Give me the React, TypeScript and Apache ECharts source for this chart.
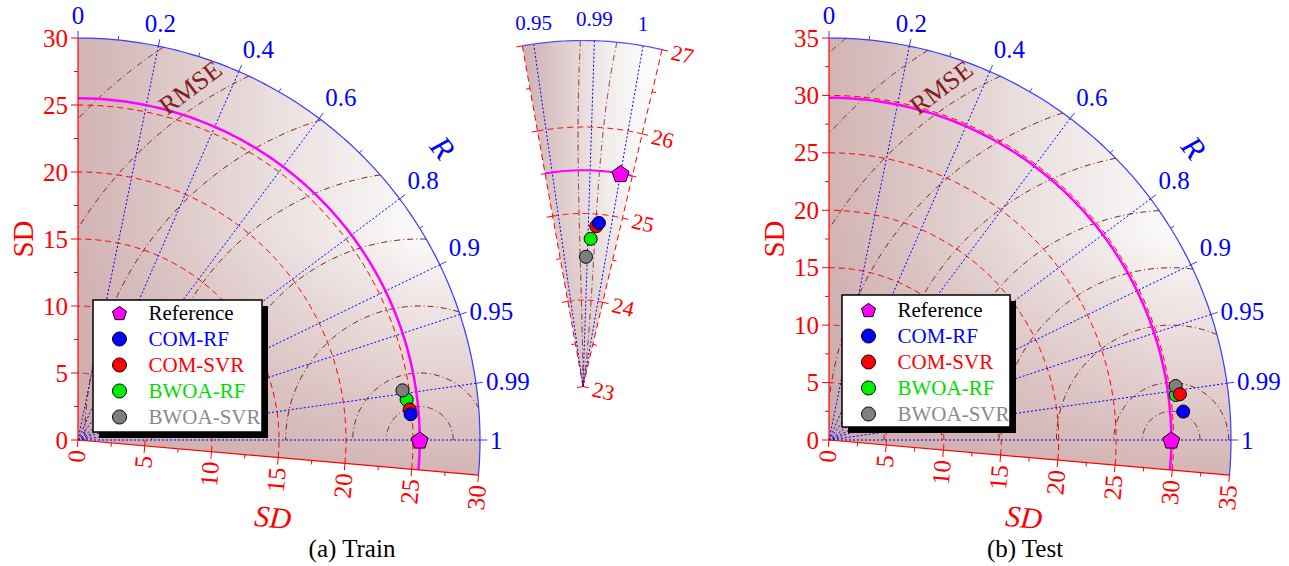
import { useEffect, useRef } from 'react';
import * as echarts from 'echarts';

// ---------------- data ----------------
const models = ['Reference', 'COM-RF', 'COM-SVR', 'BWOA-RF', 'BWOA-SVR'];
const markerColors = ['#ff00ff', '#0000ff', '#ff0000', '#00ee00', '#7f7f7f'];
const legendTextColors = ['#000000', '#0000ff', '#ff0000', '#00dd00', '#8a8a8a'];
const drawOrder = [10, 9, 8, 6, 7];

const trainSD = [25.5, 24.9, 24.86, 24.71, 24.5];
const trainR = [1, 0.997, 0.9958, 0.9925, 0.9885];
const testSD = [29.8, 30.94, 30.81, 30.45, 30.54];
const testR = [1, 0.9968, 0.9916, 0.9917, 0.9881];

const rTicks = [0, 0.2, 0.4, 0.6, 0.8, 0.9, 0.95, 0.99, 1];
const rTickLabels = ['0', '0.2', '0.4', '0.6', '0.8', '0.9', '0.95', '0.99', '1'];
const rMinorTicks = [0.1, 0.3, 0.5, 0.7, 0.85];
const trainSdTicks = [0, 5, 10, 15, 20, 25, 30];
const testSdTicks = [0, 5, 10, 15, 20, 25, 30, 35];
const rmseLevels = [2.5, 5, 10, 15, 20, 25, 30, 35, 40, 45];
const zoomSdTicks = [23, 24, 25, 26, 27];
const zoomRTicks = [0.95, 0.99, 1];
const zoomRTickLabels = ['0.95', '0.99', '1'];

// ---------------- style / geometry ----------------
const FONT = 'Liberation Serif';
const RED = '#ff0000';
const BLUE = '#0000ff';
const BROWN = '#7f1d1d';
const MAGENTA = '#ff00ff';
const LOWER = -5; // lower angular bound of the Taylor sectors (deg)
const WR = 10; // zoom wedge rotation (deg)
const W0 = 23;
const W1 = 27;
const THMIN = -3.2;
const THMAX = 20.1;
const PENTA = 'path://M0,-10L9.511,-3.09L5.878,8.09L-5.878,8.09L-9.511,-3.09Z';
const D = Math.PI / 180;

type Pt = number[];
type Coord = (p: Pt) => Pt;

const toXY = (sd: number, th: number): Pt => [sd * Math.cos(th * D), sd * Math.sin(th * D)];
const thetaOf = (r: number) => Math.acos(Math.max(-1, Math.min(1, r))) / D;
const wedgeXY = (sd: number, th: number): Pt => {
  const a = (WR - th) * D;
  const rw = sd - W0;
  return [rw * Math.sin(a), rw * Math.cos(a)];
};

const arc = (c: Coord, r: number, a0: number, a1: number, n = 120) => {
  const pts: Pt[] = [];
  for (let i = 0; i <= n; i++) pts.push(c(toXY(r, a0 + ((a1 - a0) * i) / n)));
  return pts;
};
const warc = (c: Coord, sd: number, a0: number, a1: number, n = 60) => {
  const pts: Pt[] = [];
  for (let i = 0; i <= n; i++) pts.push(c(wedgeXY(sd, a0 + ((a1 - a0) * i) / n)));
  return pts;
};
const poly = (points: Pt[], style: any) => ({ type: 'polyline', shape: { points }, style: { fill: 'none', ...style } });
const seg = (a: Pt, b: Pt, style: any) => ({
  type: 'line',
  shape: { x1: a[0], y1: a[1], x2: b[0], y2: b[1] },
  style: { fill: 'none', ...style },
});
const textStyle = (text: string, o: any = {}) => ({
  text,
  fill: o.fill || '#000',
  fontFamily: FONT,
  fontSize: o.size || 24,
  fontStyle: o.italic ? 'italic' : 'normal',
  align: o.align || 'center',
  verticalAlign: o.va || 'middle',
  textAlign: o.align || 'center',
  textVerticalAlign: o.va || 'middle',
});
const txt = (x: number, y: number, text: string, o: any = {}) => ({
  type: 'text',
  x,
  y,
  rotation: (o.rot || 0) * D,
  style: textStyle(text, o),
});

const layer = (gi: number, z: number, build: (c: Coord) => any[]) => ({
  type: 'custom',
  xAxisIndex: gi,
  yAxisIndex: gi,
  coordinateSystem: 'cartesian2d',
  data: [[0, 0]],
  clip: false,
  silent: true,
  z,
  renderItem: (_p: any, api: any) => ({ type: 'group', children: build((p: Pt) => api.coord(p)) }),
});

const hGrad = () =>
  new echarts.graphic.LinearGradient(0, 0, 1, 0, [
    { offset: 0, color: '#d2b3b3' },
    { offset: 0.5, color: '#ebe0e0' },
    { offset: 0.85, color: '#fbfafa' },
    { offset: 1, color: '#fbfafa' },
  ]);
const vGrad = (a: number) =>
  new echarts.graphic.LinearGradient(0, 0, 0, 1, [
    { offset: 0, color: 'rgba(205,168,168,0)' },
    { offset: 0.45, color: 'rgba(205,168,168,0)' },
    { offset: 1, color: `rgba(205,168,168,${a})` },
  ]);

function taylorLayers(gi: number, max: number, ref: number, sdTicks: number[]) {
  const bg = layer(gi, 1, (c) => {
    const pts = [c([0, 0]), ...arc(c, max, LOWER, 90)];
    return [
      { type: 'polygon', shape: { points: pts }, style: { fill: hGrad() } },
      { type: 'polygon', shape: { points: pts }, style: { fill: vGrad(0.85) } },
    ];
  });
  const lines = layer(gi, 2, (c) => {
    const els: any[] = [];
    const o = c([0, 0]);
    sdTicks
      .filter((t) => t > 0 && t < max)
      .forEach((t) => els.push(poly(arc(c, t, LOWER, 90), { stroke: RED, lineWidth: 1, lineDash: [6, 4] })));
    rTicks
      .filter((r) => r > 0)
      .forEach((r) => els.push(seg(o, c(toXY(max, thetaOf(r))), { stroke: BLUE, lineWidth: 1, lineDash: [2, 2] })));
    rmseLevels.forEach((L) => {
      const q = (max * max - ref * ref - L * L) / (2 * ref * L);
      if (q < -1) return;
      const t0 = q >= 1 ? 0 : Math.acos(q);
      const t1 = L > ref ? Math.acos(-ref / L) : Math.PI;
      if (t1 <= t0) return;
      const pts: Pt[] = [];
      for (let i = 0; i <= 120; i++) {
        const t = t0 + ((t1 - t0) * i) / 120;
        pts.push(c([ref + L * Math.cos(t), L * Math.sin(t)]));
      }
      els.push(poly(pts, { stroke: BROWN, lineWidth: 1, lineDash: [6, 3, 1, 3] }));
    });
    els.push(poly(arc(c, ref, LOWER, 90), { stroke: MAGENTA, lineWidth: 2.5 }));
    els.push(poly(arc(c, max, LOWER, 90), { stroke: '#3a3aff', lineWidth: 1.2 }));
    // left SD axis
    els.push(seg(o, c([0, max]), { stroke: RED, lineWidth: 1.2 }));
    sdTicks.forEach((v, i) => {
      const p = c([0, v]);
      els.push(seg(p, [p[0] - 7, p[1]], { stroke: RED, lineWidth: 1 }));
      els.push(txt(p[0] - 10, p[1], String(v), { fill: RED, size: 25, align: 'right' }));
      if (i < sdTicks.length - 1) {
        const m = c([0, (v + sdTicks[i + 1]) / 2]);
        els.push(seg(m, [m[0] - 4, m[1]], { stroke: RED, lineWidth: 1 }));
      }
    });
    // tilted bottom SD axis
    els.push(seg(o, c(toXY(max, LOWER)), { stroke: RED, lineWidth: 1.2 }));
    const out = [-Math.sin(-LOWER * D), Math.cos(-LOWER * D)];
    sdTicks.forEach((v, i) => {
      const p = c(toXY(v, LOWER));
      els.push(seg(p, [p[0] + out[0] * 7, p[1] + out[1] * 7], { stroke: RED, lineWidth: 1 }));
      els.push(
        txt(p[0] + out[0] * 10, p[1] + out[1] * 10, String(v), { fill: RED, size: 25, align: 'right', rot: 90 + LOWER })
      );
      if (i < sdTicks.length - 1) {
        const m = c(toXY((v + sdTicks[i + 1]) / 2, LOWER));
        els.push(seg(m, [m[0] + out[0] * 4, m[1] + out[1] * 4], { stroke: RED, lineWidth: 1 }));
      }
    });
    // R axis ticks & labels
    rTicks.forEach((r, i) => {
      const th = thetaOf(r);
      const p = c(toXY(max, th));
      const dir = [Math.cos(th * D), -Math.sin(th * D)];
      els.push(seg(p, [p[0] + dir[0] * 7, p[1] + dir[1] * 7], { stroke: '#3a3aff', lineWidth: 1 }));
      const ax = p[0] + dir[0] * 10;
      const ay = p[1] + dir[1] * 10;
      const align = th < 70 ? 'left' : 'center';
      const va = th < 20 ? 'middle' : 'bottom';
      els.push(txt(ax, ay, rTickLabels[i], { fill: BLUE, size: 25, align, va }));
    });
    rMinorTicks.forEach((r) => {
      const th = thetaOf(r);
      const p = c(toXY(max, th));
      const dir = [Math.cos(th * D), -Math.sin(th * D)];
      els.push(seg(p, [p[0] + dir[0] * 4, p[1] + dir[1] * 4], { stroke: '#3a3aff', lineWidth: 1 }));
    });
    // titles
    const rp = c(toXY(max * 1.162, 38.7));
    els.push(txt(rp[0], rp[1], 'R', { fill: BLUE, size: 31, italic: true, rot: 38.7 - 90 }));
    const mp = c(toXY(max * 0.92, 72.3));
    els.push(txt(mp[0], mp[1], 'RMSE', { fill: BROWN, size: 26, rot: 37 }));
    const lp = c([0, max / 2]);
    els.push(txt(lp[0] - 55, lp[1], 'SD', { fill: RED, size: 29, rot: 90 }));
    els.push(txt(o[0] + 195, o[1] + 77, 'SD', { fill: RED, size: 30, italic: true, rot: LOWER }));
    return els;
  });
  return [bg, lines];
}

function wedgeLayers(gi: number, ref: number) {
  const bg = layer(gi, 1, (c) => {
    const pts = [c([0, 0]), ...warc(c, W1, THMAX, THMIN)];
    return [
      {
        type: 'polygon',
        shape: { points: pts },
        style: {
          fill: new echarts.graphic.LinearGradient(0, 0, 1, 0, [
            { offset: 0, color: '#cfb0b0' },
            { offset: 0.6, color: '#f2ecec' },
            { offset: 1, color: '#ffffff' },
          ]),
        },
      },
      { type: 'polygon', shape: { points: pts }, style: { fill: vGrad(0.5) } },
    ];
  });
  const lines = layer(gi, 2, (c) => {
    const els: any[] = [];
    const o = c([0, 0]);
    zoomSdTicks
      .filter((t) => t > W0 && t < W1)
      .forEach((t) => els.push(poly(warc(c, t, THMAX, THMIN), { stroke: RED, lineWidth: 1, lineDash: [6, 4] })));
    els.push(seg(o, c(wedgeXY(W1, THMAX)), { stroke: RED, lineWidth: 1, lineDash: [6, 4] }));
    els.push(seg(o, c(wedgeXY(W1, THMIN)), { stroke: RED, lineWidth: 1, lineDash: [6, 4] }));
    zoomRTicks.forEach((r) =>
      els.push(seg(o, c(wedgeXY(W1, thetaOf(r))), { stroke: BLUE, lineWidth: 1, lineDash: [2, 2] }))
    );
    rmseLevels.forEach((L) => {
      let cur: Pt[] = [];
      const n = 2000;
      for (let i = 0; i <= n; i++) {
        const t = (Math.PI * i) / n;
        const x = ref + L * Math.cos(t);
        const y = L * Math.sin(t);
        const sd = Math.hypot(x, y);
        const th = Math.atan2(y, x) / D;
        const inside = sd >= W0 && sd <= W1 && th >= THMIN && th <= THMAX;
        if (inside) cur.push(c(wedgeXY(sd, th)));
        else if (cur.length) {
          if (cur.length > 1) els.push(poly(cur, { stroke: BROWN, lineWidth: 1, lineDash: [6, 3, 1, 3] }));
          cur = [];
        }
      }
      if (cur.length > 1) els.push(poly(cur, { stroke: BROWN, lineWidth: 1, lineDash: [6, 3, 1, 3] }));
    });
    els.push(poly(warc(c, ref, THMAX, THMIN), { stroke: MAGENTA, lineWidth: 2 }));
    els.push(poly(warc(c, W1, THMAX, THMIN), { stroke: '#5050ff', lineWidth: 1.2 }));
    const aR = (WR - THMIN) * D;
    const aL = (WR - THMAX) * D;
    const outR = [Math.cos(aR), Math.sin(aR)];
    const outL = [-Math.cos(aL), -Math.sin(aL)];
    zoomSdTicks.forEach((v, i) => {
      const pr = c(wedgeXY(v, THMIN));
      const pl = c(wedgeXY(v, THMAX));
      els.push(seg(pr, [pr[0] + outR[0] * 6, pr[1] + outR[1] * 6], { stroke: RED, lineWidth: 1 }));
      els.push(seg(pl, [pl[0] + outL[0] * 6, pl[1] + outL[1] * 6], { stroke: RED, lineWidth: 1 }));
      els.push(
        txt(pr[0] + outR[0] * 10, pr[1] + outR[1] * 10, String(v), {
          fill: RED,
          size: 22,
          align: 'left',
          rot: -(WR - THMIN),
        })
      );
      if (i < zoomSdTicks.length - 1) {
        const mid = (v + zoomSdTicks[i + 1]) / 2;
        const mr = c(wedgeXY(mid, THMIN));
        const ml = c(wedgeXY(mid, THMAX));
        els.push(seg(mr, [mr[0] + outR[0] * 4, mr[1] + outR[1] * 4], { stroke: RED, lineWidth: 1 }));
        els.push(seg(ml, [ml[0] + outL[0] * 4, ml[1] + outL[1] * 4], { stroke: RED, lineWidth: 1 }));
      }
    });
    zoomRTicks.forEach((r, i) => {
      const p = c(wedgeXY(W1, thetaOf(r)));
      els.push(txt(p[0], p[1] - 11, zoomRTickLabels[i], { fill: BLUE, size: 21, va: 'bottom' }));
    });
    return els;
  });
  return [bg, lines];
}

function scatterSeries(gi: number, sdArr: number[], rArr: number[], tf: (sd: number, th: number) => Pt) {
  return models.map((name, i) => ({
    type: 'scatter',
    name,
    xAxisIndex: gi,
    yAxisIndex: gi,
    data: [tf(sdArr[i], thetaOf(rArr[i]))],
    symbol: i === 0 ? PENTA : 'circle',
    symbolSize: i === 0 ? 17 : 13,
    symbolKeepAspect: true,
    itemStyle: { color: markerColors[i], borderColor: '#000', borderWidth: 1, opacity: 1 },
    z: drawOrder[i],
    silent: true,
  }));
}

const legendData = models.map((m, i) => ({
  name: m,
  icon: i === 0 ? PENTA : 'circle',
  itemStyle: { color: markerColors[i], borderColor: '#000', borderWidth: 1 },
  textStyle: { color: legendTextColors[i] },
}));

const legendCfg = (left: number, top: number) => ({
  left,
  top,
  orient: 'vertical',
  padding: 0,
  itemGap: 0,
  itemWidth: 14,
  itemHeight: 14,
  selectedMode: false,
  data: legendData,
  textStyle: { fontFamily: FONT, fontSize: 21, lineHeight: 26, padding: [0, 0, 0, 17] },
});

const legendBox = (x: number, y: number, w: number, h: number) => [
  { type: 'rect', z: 3, shape: { x: x + 6, y: y + 6, width: w, height: h }, style: { fill: '#000' } },
  { type: 'rect', z: 3, shape: { x, y, width: w, height: h }, style: { fill: '#fff', stroke: '#000', lineWidth: 1.5 } },
];

export default function App() {
  const ref = useRef<HTMLDivElement>(null);
  useEffect(() => {
    if (!ref.current) return;
    const chart = echarts.init(ref.current, undefined, { renderer: 'svg' });
    const option: any = {
      animation: false,
      backgroundColor: '#ffffff',
      grid: [
        { left: 78, top: 38, width: 402, height: 402 },
        { left: 496.5, top: 14.55, width: 216.25, height: 371.95 },
        { left: 829, top: 38, width: 402, height: 402 },
      ],
      xAxis: [
        { gridIndex: 0, type: 'value', min: 0, max: 30, show: false },
        { gridIndex: 1, type: 'value', min: -1, max: 1.5, show: false },
        { gridIndex: 2, type: 'value', min: 0, max: 35, show: false },
      ],
      yAxis: [
        { gridIndex: 0, type: 'value', min: 0, max: 30, show: false },
        { gridIndex: 1, type: 'value', min: 0, max: 4.3, show: false },
        { gridIndex: 2, type: 'value', min: 0, max: 35, show: false },
      ],
      legend: [legendCfg(112, 300), legendCfg(861, 297)],
      graphic: [
        ...legendBox(93, 300, 169, 132),
        ...legendBox(842, 295, 168, 132),
        { type: 'text', x: 352, y: 548, z: 3, style: textStyle('(a) Train', { size: 25 }) },
        { type: 'text', x: 1025, y: 548, z: 3, style: textStyle('(b) Test', { size: 25 }) },
      ],
      series: [
        ...taylorLayers(0, 30, trainSD[0], trainSdTicks),
        ...wedgeLayers(1, trainSD[0]),
        ...taylorLayers(2, 35, testSD[0], testSdTicks),
        ...scatterSeries(0, trainSD, trainR, toXY),
        ...scatterSeries(1, trainSD, trainR, wedgeXY),
        ...scatterSeries(2, testSD, testR, toXY),
      ],
    };
    chart.setOption(option);
    return () => chart.dispose();
  }, []);
  return (
    <div
      ref={ref}
      style={{ position: 'fixed', left: 0, top: 0, width: 1289, height: 566, background: '#fff' }}
    />
  );
}
